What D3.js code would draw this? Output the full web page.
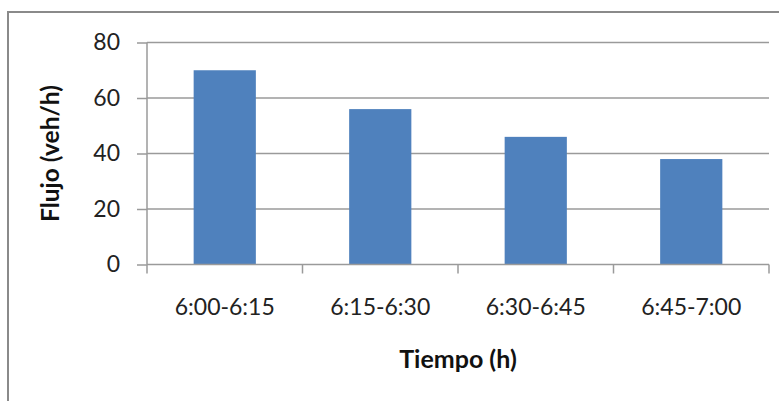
<!DOCTYPE html>
<html><head><meta charset="utf-8">
<script src="https://cdn.jsdelivr.net/npm/d3@7"></script>
<style>body{margin:0;background:#fff}svg{display:block}</style>
</head><body>
<svg id="c" width="779" height="401"></svg>
<script>
const categories = ["6:00-6:15","6:15-6:30","6:30-6:45","6:45-7:00"];
const values = [70, 56, 46, 38];
const yTicks = [0, 20, 40, 60, 80];
const xTitle = "Tiempo (h)";
const yTitle = "Flujo (veh/h)";

const svg = d3.select("#c");
const pL = 147, pR = 769, pT = 42.5, pB = 264.5;
const font = "Lato, 'Open Sans', sans-serif";

svg.append("rect").attr("x", 8).attr("y", 12).attr("width", 780).attr("height", 400)
  .attr("fill", "#fff").attr("stroke", "#8a8a8a").attr("stroke-width", 2);

const x = d3.scaleBand().domain(categories).range([pL, pR]).paddingInner(0.6).paddingOuter(0.3);
const xb = d3.scaleBand().domain(categories).range([pL, pR]);
const y = d3.scaleLinear().domain([0, 80]).range([pB, pT]);

// gridlines
svg.append("g").selectAll("line").data(yTicks.filter(d => d > 0)).join("line")
  .attr("x1", pL).attr("x2", pR).attr("y1", d => y(d)).attr("y2", d => y(d))
  .attr("stroke", "#9a9a9a").attr("stroke-width", 1.5);

// bars
svg.append("g").selectAll("rect").data(values).join("rect")
  .attr("x", (d, i) => x(categories[i])).attr("width", x.bandwidth())
  .attr("y", d => y(d)).attr("height", d => y(0) - y(d))
  .attr("fill", "#4f81bd");

// y axis
const yAxis = d3.axisLeft(y).tickValues(yTicks).tickSize(10).tickPadding(17);
const gy = svg.append("g").attr("transform", `translate(${pL},0)`).call(yAxis);
gy.select(".domain").attr("stroke", "#9a9a9a").attr("stroke-width", 1.5).attr("d", `M0,${pT}V${pB}`);
gy.selectAll(".tick line").attr("stroke", "#9a9a9a").attr("stroke-width", 1.5);
gy.selectAll(".tick text").attr("font-family", font).attr("font-size", 23).attr("fill", "#222");

// x axis
svg.append("line").attr("x1", pL).attr("x2", pR).attr("y1", pB).attr("y2", pB)
  .attr("stroke", "#9a9a9a").attr("stroke-width", 1.5);
const bounds = categories.map(c => xb(c)).concat([pR]);
svg.append("g").selectAll("line").data(bounds).join("line")
  .attr("x1", d => d).attr("x2", d => d).attr("y1", pB).attr("y2", pB + 9)
  .attr("stroke", "#9a9a9a").attr("stroke-width", 1.5);
svg.append("g").selectAll("text").data(categories).join("text")
  .attr("x", d => xb(d) + xb.bandwidth() / 2).attr("y", 315)
  .attr("text-anchor", "middle").attr("font-family", font).attr("font-size", 23).attr("fill", "#222")
  .text(d => d);

// titles
svg.append("text").attr("x", (pL + pR) / 2).attr("y", 368).attr("text-anchor", "middle")
  .attr("font-family", font).attr("font-weight", "bold").attr("font-size", 25).attr("fill", "#111")
  .text(xTitle);
svg.append("text").attr("transform", `translate(59,${(pT + pB) / 2}) rotate(-90)`)
  .attr("text-anchor", "middle").attr("font-family", font).attr("font-weight", "bold")
  .attr("font-size", 24.5).attr("fill", "#111").text(yTitle);
</script>
</body></html>
